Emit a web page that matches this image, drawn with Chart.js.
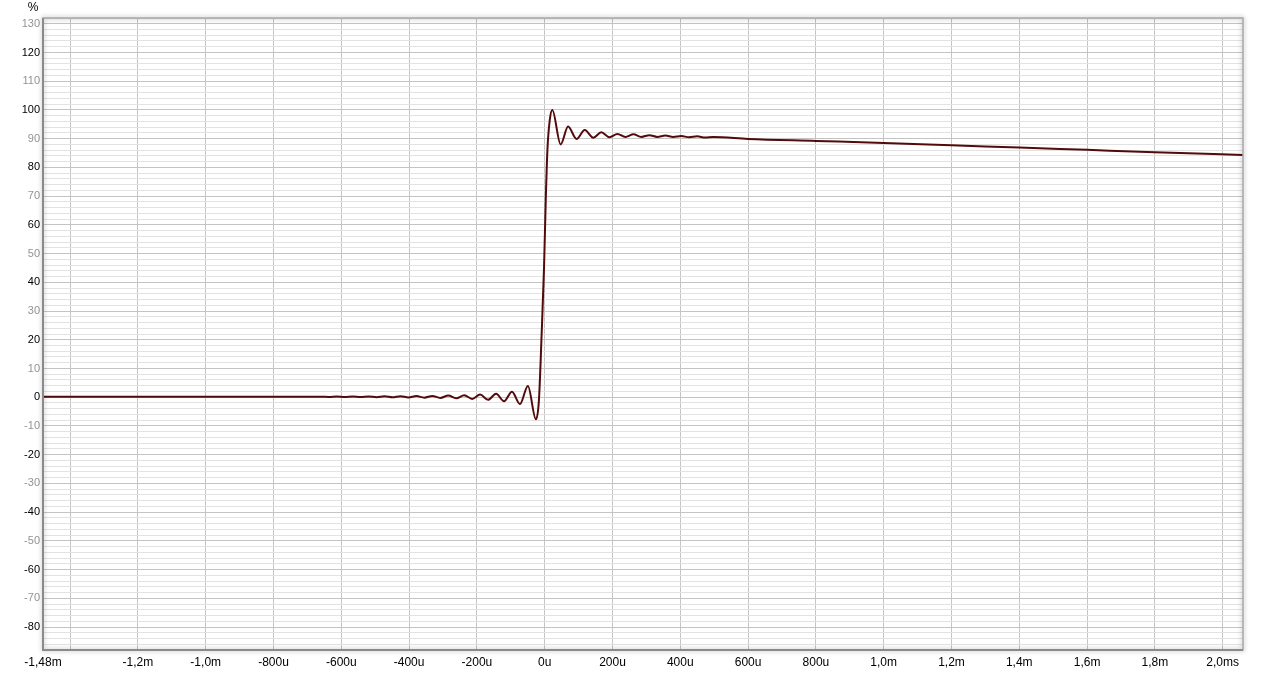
<!DOCTYPE html>
<html>
<head>
<meta charset="utf-8">
<title>Step response</title>
<script src="https://cdn.jsdelivr.net/npm/chart.js@4.4.1/dist/chart.umd.min.js"></script>
<style>
    html, body { margin: 0; padding: 0; background: #fff; }
    #wrap { width: 1265px; height: 674px; }
</style>
</head>
<body>
<div id="wrap"><canvas id="grafico"></canvas></div>
<script>
// tempo em ms, valor em %
const tempos = [
    -1.48, -1.2, -1.0, -0.8, -0.7,
    -0.6605, -0.637, -0.6135, -0.590, -0.5665, -0.543, -0.5195, -0.496,
    -0.4725, -0.449, -0.4255, -0.402, -0.3785, -0.355, -0.3315, -0.308,
    -0.2845, -0.261, -0.2375, -0.214, -0.1905, -0.167, -0.1435, -0.120,
    -0.0965, -0.073, -0.0495, -0.026,
    -0.017, -0.009, -0.002, 0.003, 0.008, 0.015, 0.0225,
    0.047, 0.069, 0.094, 0.118, 0.1435, 0.167, 0.191, 0.2145, 0.238, 0.262,
    0.285, 0.309, 0.332, 0.356, 0.379, 0.403, 0.426, 0.450, 0.473, 0.497,
    0.6, 0.8, 1.0, 1.2, 1.4, 1.6, 1.8, 2.06
];
const valores = [
    0.15, 0.15, 0.15, 0.15, 0.15,
    0.2, 0.1, 0.22, 0.08, 0.25, 0.05, 0.28, 0.0,
    0.3, -0.05, 0.35, -0.1, 0.4, -0.15, 0.45, -0.25,
    0.55, -0.4, 0.7, -0.6, 0.9, -0.9, 1.2, -1.4,
    1.9, -2.4, 3.9, -7.7,
    -1, 22, 45, 68, 86, 96.5, 100,
    88.0, 94.2, 89.9, 93.0, 90.3, 92.2, 90.5, 91.6, 90.6, 91.5,
    90.6, 91.2, 90.6, 91.1, 90.6, 90.9, 90.5, 90.8, 90.4, 90.6,
    89.9, 89.2, 88.5, 87.7, 86.9, 86.1, 85.3, 84.3
];

const xTicks = [-1.48, -1.4, -1.2, -1.0, -0.8, -0.6, -0.4, -0.2, 0, 0.2, 0.4, 0.6, 0.8, 1.0, 1.2, 1.4, 1.6, 1.8, 2.0];
const xLabels = ["-1,48m", "", "-1,2m", "-1,0m", "-800u", "-600u", "-400u", "-200u", "0u", "200u", "400u", "600u", "800u", "1,0m", "1,2m", "1,4m", "1,6m", "1,8m", "2,0ms"];

const FONTE = "'Liberation Sans', Arial, sans-serif";

// moldura com sombra e unidade "%"
const moldura = {
    id: "moldura",
    afterDraw(chart) {
        const { ctx, chartArea: a } = chart;
        ctx.save();
        ctx.shadowColor = "rgba(0,0,0,0.4)";
        ctx.shadowBlur = 5;
        ctx.strokeStyle = "#a8a8a8";
        ctx.lineWidth = 1.5;
        ctx.strokeRect(a.left, a.top, a.right - a.left, a.bottom - a.top);
        ctx.restore();

        ctx.save();
        ctx.strokeStyle = "#8a8a8a";
        ctx.lineWidth = 2;
        ctx.beginPath();
        ctx.moveTo(a.left, a.top);
        ctx.lineTo(a.left, a.bottom);
        ctx.lineTo(a.right, a.bottom);
        ctx.stroke();

        ctx.fillStyle = "#000";
        ctx.font = "12px " + FONTE;
        ctx.textAlign = "center";
        ctx.textBaseline = "middle";
        ctx.fillText("%", a.left - 10, 8);
        ctx.restore();
    }
};

const ctx = document.getElementById("grafico").getContext("2d");
new Chart(ctx, {
    type: "scatter",
    data: {
        datasets: [{
            data: tempos.map((t, i) => ({ x: t, y: valores[i] })),
            showLine: true,
            borderColor: "#520a0a",
            borderWidth: 2,
            pointRadius: 0,
            cubicInterpolationMode: "monotone"
        }]
    },
    options: {
        responsive: true,
        maintainAspectRatio: false,
        animation: false,
        layout: { padding: { top: 18, right: 22, left: 0, bottom: 0 } },
        plugins: { legend: { display: false }, tooltip: { enabled: false } },
        scales: {
            x: {
                type: "linear",
                min: -1.48,
                max: 2.06,
                afterBuildTicks: s => { s.ticks = xTicks.map(v => ({ value: v })); },
                afterFit: s => { s.height = 24; },
                border: { display: false },
                grid: { color: "#c4c4c4", drawTicks: false },
                ticks: {
                    autoSkip: false,
                    maxRotation: 0,
                    padding: 5,
                    color: "#000",
                    font: { family: FONTE, size: 12 },
                    callback: (v, i) => xLabels[i]
                }
            },
            y: {
                type: "linear",
                min: -88,
                max: 132,
                afterFit: s => { s.width = 43; },
                border: { display: false },
                grid: {
                    drawTicks: false,
                    color: c => (c.tick && c.tick.value % 10 === 0) ? "#c4c4c4" : "#e2e2e2"
                },
                ticks: {
                    stepSize: 2,
                    autoSkip: false,
                    padding: 3,
                    font: { family: FONTE, size: 11 },
                    color: c => (c.tick.value % 20 === 0) ? "#000" : "#939393",
                    callback: v => (v % 10 === 0) ? String(v) : ""
                }
            }
        }
    },
    plugins: [moldura]
});
</script>
</body>
</html>
